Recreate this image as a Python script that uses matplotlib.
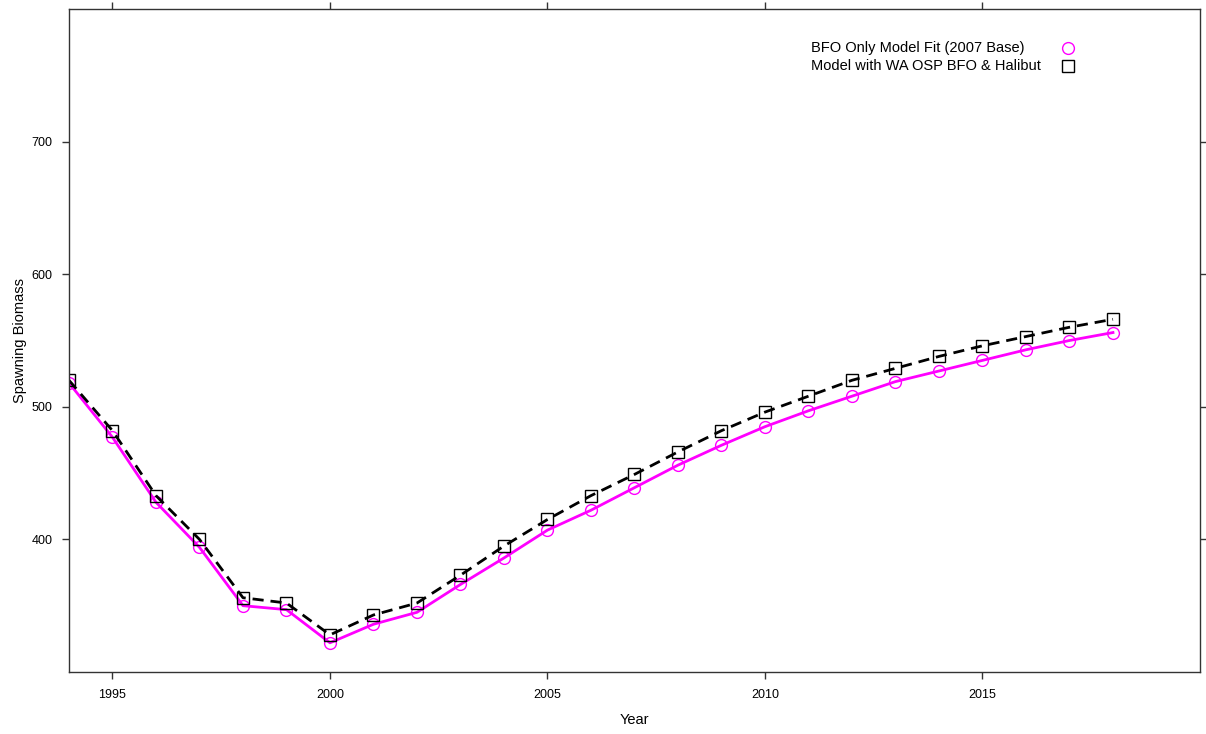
import matplotlib
matplotlib.use('Agg')
import matplotlib.pyplot as plt

plt.rcParams['font.family'] = ['Liberation Sans', 'DejaVu Sans']

years = list(range(1994, 2019))
bfo_only = [518, 477, 428, 394, 350, 347, 322, 336, 345, 366, 386, 407, 422, 439, 456,
            471, 485, 497, 508, 519, 527, 535, 543, 550, 556]
wa_osp = [520, 482, 433, 400, 356, 352, 328, 343, 352, 373, 395, 415, 433, 449, 466,
          482, 496, 508, 520, 529, 538, 546, 553, 560, 566]
series_labels = ['BFO Only Model Fit (2007 Base)', 'Model with WA OSP BFO & Halibut']
series_colors = ['#ff00ff', 'black']
series_markers = ['o', 's']
x_ticks = [1995, 2000, 2005, 2010, 2015]
y_ticks = [400, 500, 600, 700]

fig = plt.figure(figsize=(12.06, 7.34), dpi=100)
ax = fig.add_axes([0.0572, 0.0845, 0.9378, 0.9032])

ax.plot(years, bfo_only, color=series_colors[0], lw=2, marker='o', ms=8.5,
        mfc='none', mew=1)
ax.plot(years, wa_osp, color=series_colors[1], lw=2, ls=(0, (4, 2.5)), marker='s',
        ms=8.5, mfc='none', mew=1)

ax.set_xlim(1994, 2020)
ax.set_ylim(300, 800)
ax.set_xticks(x_ticks)
ax.set_yticks(y_ticks)
ax.tick_params(direction='out', length=5, width=1, color='#333333', labelsize=9,
               top=True, right=True, labeltop=False, labelright=False, pad=7)
for s in ax.spines.values():
    s.set_color('#333333')
    s.set_linewidth(1)
ax.set_xlabel('Year', fontsize=10.5, labelpad=9)
ax.set_ylabel('Spawning Biomass', fontsize=10.5, labelpad=3)

# key, lattice style: text left aligned, symbol to the right
for i, (lab, c, m) in enumerate(zip(series_labels, series_colors, series_markers)):
    yk = 0.941 - i * 0.027
    ax.text(0.656, yk, lab, transform=ax.transAxes, fontsize=10.5,
            ha='left', va='center')
    ax.plot([0.883], [yk], transform=ax.transAxes, marker=m, ms=8.5, mfc='none',
            mec=c, mew=1, ls='none', clip_on=False)

fig.savefig('out.png', dpi=100)
